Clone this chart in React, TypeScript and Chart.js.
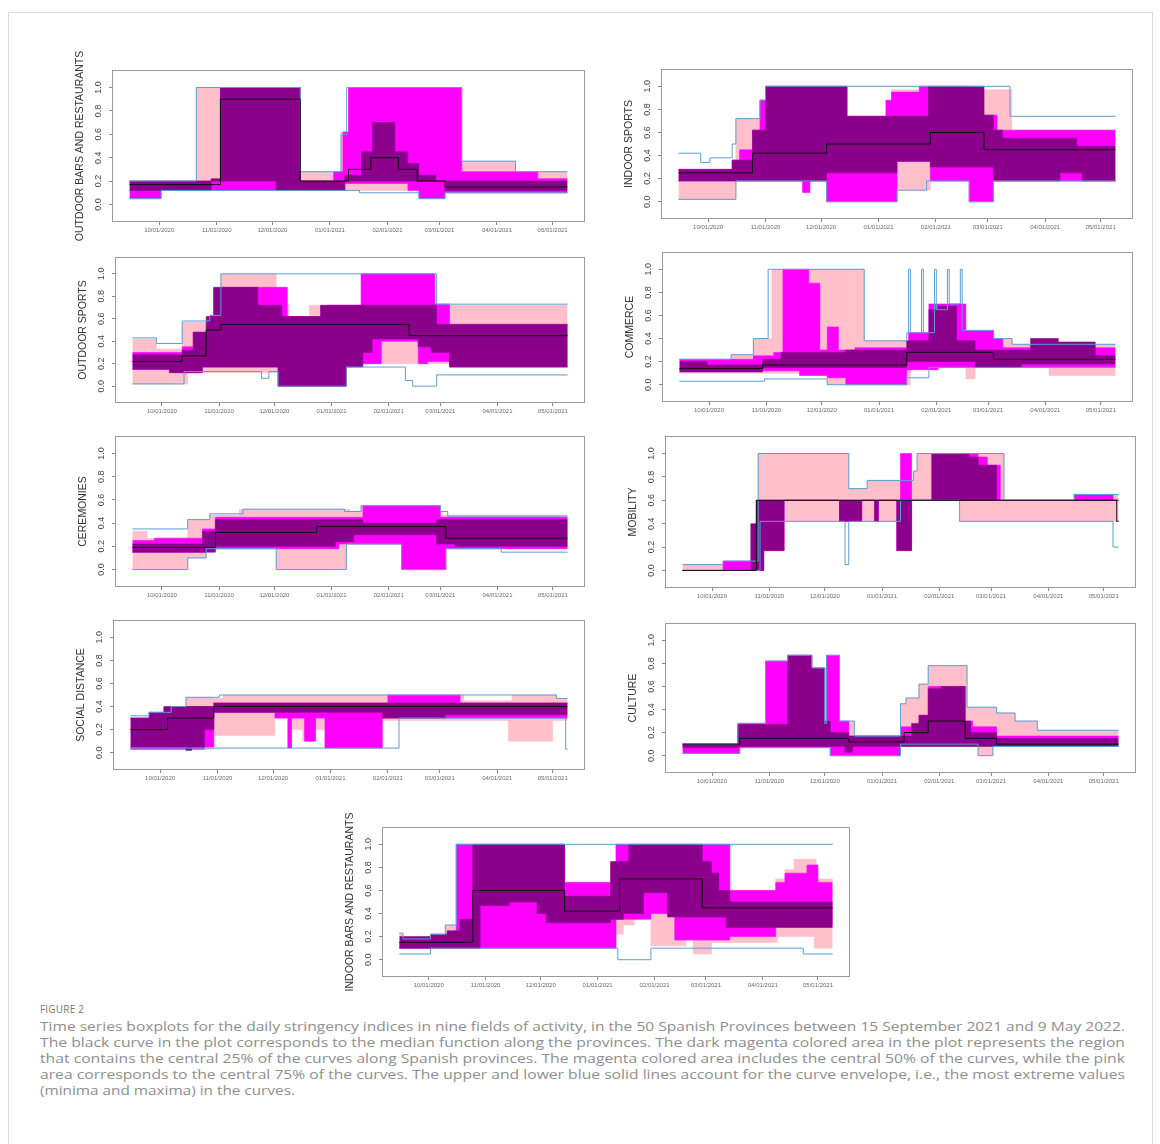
import React, { useEffect, useLayoutEffect, useRef } from "react";
import { Chart, registerables } from "chart.js";

Chart.register(...registerables);

type Step = [number, number][];

// ---------- shared axis data ----------
const END_DAY = 236; // days after 15 Sep 2020
const X_MIN = -9.44;
const X_MAX = 245.44;
const Y_MIN = -0.15;
const Y_MAX = 1.15;
const TICK_DAYS = [16, 47, 77, 108, 139, 167, 198, 228];
const TICK_LABELS = ["10/01/2020", "11/01/2020", "12/01/2020", "01/01/2021", "02/01/2021", "03/01/2021", "04/01/2021", "05/01/2021"];
const Y_TICKS = [0, 0.2, 0.4, 0.6, 0.8, 1.0];

// ---------- Panel 1: OUTDOOR BARS AND RESTAURANTS ----------
const OBR_MEDIAN: Step = [[0, 0.17], [49, 0.9], [92, 0.2], [118, 0.3], [130, 0.4], [145, 0.3], [155, 0.2], [170, 0.15]];
const OBR_MAX: Step = [[0, 0.2], [36, 1.0], [92, 0.28], [114, 0.6], [117, 1.0], [179, 0.37], [208, 0.28]];
const OBR_MIN: Step = [[0, 0.05], [17, 0.12], [124, 0.1], [156, 0.05], [170, 0.1]];
const OBR_PINK_HI: Step = [[0, 0.2], [36, 1.0], [92, 0.28], [114, 0.62], [118, 1.0], [179, 0.37], [208, 0.28]];
const OBR_PINK_LO: Step = [[0, 0.05], [17, 0.12], [156, 0.06], [170, 0.1]];
const OBR_MAG_HI: Step = [[0, 0.2], [49, 1.0], [92, 0.2], [110, 0.28], [115, 0.62], [118, 1.0], [179, 0.28], [220, 0.22]];
const OBR_MAG_LO: Step = [[0, 0.05], [17, 0.12], [116, 0.18], [150, 0.12], [156, 0.05], [170, 0.1]];
const OBR_DARK_HI: Step = [[0, 0.2], [44, 0.22], [49, 1.0], [92, 0.2], [116, 0.25], [125, 0.45], [131, 0.7], [143, 0.45], [150, 0.35], [156, 0.25], [165, 0.2]];
const OBR_DARK_LO: Step = [[0, 0.12], [44, 0.2], [79, 0.12], [116, 0.2], [170, 0.12]];

// ---------- Panel 2: INDOOR SPORTS ----------
const IS_MEDIAN: Step = [[0, 0.25], [40, 0.42], [80, 0.5], [136, 0.6], [165, 0.45]];
const IS_MAX: Step = [[0, 0.42], [12, 0.34], [17, 0.38], [29, 0.5], [31, 0.72], [44, 0.88], [47, 1.0], [179, 0.74]];
const IS_MIN: Step = [[0, 0.02], [31, 0.18], [80, 0.0], [118, 0.1], [134, 0.18], [157, 0.0], [170, 0.18]];
const IS_PINK_HI: Step = [[0, 0.28], [31, 0.72], [44, 0.88], [47, 1.0], [91, 0.74], [115, 0.97], [131, 1.0], [160, 0.97], [180, 0.62]];
const IS_PINK_LO: Step = [[0, 0.02], [31, 0.18], [80, 0.0], [118, 0.1], [136, 0.18], [157, 0.0], [170, 0.18]];
const IS_MAG_HI: Step = [[0, 0.28], [29, 0.36], [33, 0.45], [40, 0.62], [44, 0.88], [47, 1.0], [91, 0.74], [112, 0.88], [115, 0.95], [130, 1.0], [155, 0.95], [162, 0.75], [172, 0.62]];
const IS_MAG_LO: Step = [[0, 0.18], [67, 0.08], [71, 0.18], [80, 0.0], [118, 0.35], [136, 0.18], [157, 0.0], [170, 0.18]];
const IS_DARK_HI: Step = [[0, 0.28], [29, 0.36], [40, 0.62], [47, 1.0], [91, 0.74], [135, 1.0], [165, 0.75], [170, 0.62], [175, 0.55], [215, 0.48]];
const IS_DARK_LO: Step = [[0, 0.18], [80, 0.25], [118, 0.35], [136, 0.3], [170, 0.18], [206, 0.25], [218, 0.18]];

// ---------- Panel 3: OUTDOOR SPORTS ----------
const OS_MEDIAN: Step = [[0, 0.22], [27, 0.27], [40, 0.5], [48, 0.55], [150, 0.45]];
const OS_MAX: Step = [[0, 0.43], [13, 0.38], [27, 0.58], [42, 0.63], [48, 1.0], [165, 0.73]];
const OS_MIN: Step = [[0, 0.02], [28, 0.13], [70, 0.07], [74, 0.13], [79, 0.0], [116, 0.17], [148, 0.05], [152, 0.0], [165, 0.1]];
const OS_PINK_HI: Step = [[0, 0.42], [13, 0.33], [27, 0.57], [42, 0.63], [48, 1.0], [78, 0.73], [85, 0.62], [96, 0.72], [125, 1.0], [164, 0.73], [172, 0.72]];
const OS_PINK_LO: Step = [[0, 0.02], [30, 0.12], [79, 0.0], [116, 0.2]];
const OS_MAG_HI: Step = [[0, 0.3], [27, 0.35], [33, 0.48], [42, 0.63], [48, 0.88], [84, 0.62], [106, 0.72], [124, 1.0], [164, 0.73], [172, 0.55]];
const OS_MAG_LO: Step = [[0, 0.15], [23, 0.12], [36, 0.17], [79, 0.0], [116, 0.2], [135, 0.4], [155, 0.2], [160, 0.22], [172, 0.17]];
const OS_DARK_HI: Step = [[0, 0.28], [27, 0.32], [33, 0.48], [40, 0.62], [44, 0.88], [68, 0.72], [81, 0.62], [102, 0.72], [165, 0.55]];
const OS_DARK_LO: Step = [[0, 0.15], [20, 0.12], [38, 0.17], [79, 0.0], [116, 0.17], [125, 0.3], [130, 0.42], [155, 0.35], [162, 0.3], [172, 0.17]];

// ---------- Panel 4: COMMERCE ----------
const CO_MEDIAN: Step = [[0, 0.14], [45, 0.17], [123, 0.28], [170, 0.22]];
const CO_MAX: Step = [[0, 0.22], [28, 0.26], [40, 0.4], [48, 1.0], [100, 0.38], [123, 0.45], [124, 1.0], [125, 0.45], [131, 1.0], [132, 0.45], [138, 1.0], [139, 0.65], [145, 1.0], [146, 0.7], [152, 1.0], [153, 0.47], [170, 0.4], [180, 0.35]];
const CO_MIN: Step = [[0, 0.03], [46, 0.05], [80, 0.0], [123, 0.06], [135, 0.15]];
const CO_PINK_HI: Step = [[0, 0.22], [28, 0.26], [40, 0.4], [50, 1.0], [100, 0.38], [124, 0.45], [155, 0.47], [170, 0.4], [180, 0.35]];
const CO_PINK_LO: Step = [[0, 0.1], [80, 0.0], [125, 0.15], [155, 0.05], [160, 0.15], [200, 0.08]];
const CO_MAG_HI: Step = [[0, 0.22], [40, 0.25], [51, 0.28], [56, 1.0], [70, 0.88], [76, 0.3], [80, 0.5], [86, 0.3], [95, 0.32], [124, 0.45], [135, 0.7], [155, 0.47], [170, 0.4], [175, 0.32]];
const CO_MAG_LO: Step = [[0, 0.12], [65, 0.08], [80, 0.06], [90, 0.0], [123, 0.13], [140, 0.15]];
const CO_DARK_HI: Step = [[0, 0.2], [15, 0.17], [45, 0.22], [55, 0.28], [90, 0.3], [123, 0.38], [135, 0.65], [140, 0.68], [150, 0.38], [160, 0.3], [190, 0.4], [205, 0.37], [225, 0.25]];
const CO_DARK_LO: Step = [[0, 0.11], [45, 0.15], [123, 0.2], [160, 0.15], [185, 0.18]];

// ---------- Panel 5: CEREMONIES ----------
const CE_MEDIAN: Step = [[0, 0.19], [45, 0.32], [100, 0.37], [170, 0.27]];
const CE_MAX: Step = [[0, 0.35], [30, 0.43], [42, 0.48], [60, 0.52], [115, 0.5], [124, 0.55], [167, 0.5], [171, 0.46]];
const CE_MIN: Step = [[0, 0.0], [30, 0.1], [40, 0.18], [78, 0.0], [116, 0.22], [146, 0.0], [170, 0.18], [200, 0.15]];
const CE_PINK_HI: Step = [[0, 0.33], [8, 0.27], [30, 0.43], [42, 0.47], [58, 0.52], [118, 0.5], [124, 0.55], [167, 0.47]];
const CE_PINK_LO: Step = [[0, 0.0], [30, 0.1], [40, 0.18], [78, 0.0], [116, 0.22], [146, 0.0], [170, 0.18]];
const CE_MAG_HI: Step = [[0, 0.25], [12, 0.27], [38, 0.35], [45, 0.45], [125, 0.55], [167, 0.45]];
const CE_MAG_LO: Step = [[0, 0.15], [40, 0.18], [112, 0.22], [146, 0.0], [170, 0.18]];
const CE_DARK_HI: Step = [[0, 0.22], [38, 0.33], [45, 0.43], [125, 0.4], [165, 0.43]];
const CE_DARK_LO: Step = [[0, 0.15], [45, 0.2], [110, 0.24], [120, 0.3], [165, 0.22], [175, 0.2]];

// ---------- Panel 6: MOBILITY ----------
const MO_MEDIAN: Step = [[0, 0.0], [40, 0.6], [235, 0.42]];
const MO_MAX: Step = [[0, 0.05], [22, 0.08], [41, 1.0], [90, 0.7], [100, 0.77], [125, 0.85], [127, 1.0], [174, 0.6], [212, 0.65]];
const MO_MIN: Step = [[0, 0.0], [42, 0.42], [88, 0.05], [90, 0.42], [118, 0.6], [150, 0.42], [233, 0.2]];
const MO_PINK_HI: Step = [[0, 0.05], [22, 0.08], [41, 1.0], [90, 0.7], [100, 0.77], [125, 0.85], [127, 1.0], [174, 0.6], [212, 0.65]];
const MO_PINK_LO: Step = [[0, 0.0], [42, 0.42], [118, 0.6], [150, 0.42]];
const MO_MAG_HI: Step = [[0, 0.0], [22, 0.08], [40, 0.6], [118, 1.0], [124, 0.6], [135, 1.0], [160, 0.97], [165, 0.9], [172, 0.6], [212, 0.65], [233, 0.6]];
const MO_MAG_LO: Step = [[0, 0.0], [44, 0.17], [55, 0.6], [85, 0.42], [97, 0.6], [104, 0.42], [106, 0.6], [116, 0.17], [124, 0.6]];
const MO_DARK_HI: Step = [[0, 0.0], [37, 0.4], [40, 0.6], [135, 1.0], [155, 0.97], [160, 0.9], [170, 0.6]];
const MO_DARK_LO: Step = [[0, 0.0], [44, 0.17], [55, 0.6], [85, 0.42], [97, 0.6], [104, 0.42], [106, 0.6], [116, 0.17], [124, 0.6]];

// ---------- Panel 7: SOCIAL DISTANCE ----------
const SD_MEDIAN: Step = [[0, 0.2], [20, 0.3], [45, 0.4]];
const SD_MAX: Step = [[0, 0.32], [10, 0.35], [22, 0.4], [30, 0.48], [48, 0.5], [230, 0.47]];
const SD_MIN: Step = [[0, 0.04], [145, 0.3], [235, 0.03]];
const SD_PINK_HI: Step = [[0, 0.3], [30, 0.48], [45, 0.47], [50, 0.5], [180, 0.45], [206, 0.5], [230, 0.47]];
const SD_PINK_LO: Step = [[0, 0.03], [45, 0.15], [78, 0.3], [85, 0.04], [87, 0.2], [93, 0.1], [98, 0.2], [110, 0.04], [135, 0.28], [204, 0.1], [228, 0.28]];
const SD_MAG_HI: Step = [[0, 0.3], [22, 0.4], [45, 0.43], [139, 0.5], [178, 0.43]];
const SD_MAG_LO: Step = [[0, 0.03], [40, 0.05], [45, 0.35], [78, 0.3], [85, 0.04], [87, 0.3], [94, 0.1], [100, 0.3], [105, 0.04], [136, 0.3]];
const SD_DARK_HI: Step = [[0, 0.3], [10, 0.35], [18, 0.4], [45, 0.43]];
const SD_DARK_LO: Step = [[0, 0.05], [30, 0.02], [33, 0.05], [40, 0.2], [45, 0.35], [136, 0.3], [170, 0.33]];

// ---------- Panel 8: CULTURE ----------
const CU_MEDIAN: Step = [[0, 0.1], [31, 0.15], [90, 0.12], [120, 0.2], [133, 0.3], [153, 0.15], [170, 0.1]];
const CU_MAX: Step = [[0, 0.1], [30, 0.28], [45, 0.82], [57, 0.87], [70, 0.76], [77, 0.28], [78, 0.87], [85, 0.3], [93, 0.17], [118, 0.45], [121, 0.5], [128, 0.62], [133, 0.78], [154, 0.42], [170, 0.37], [180, 0.3], [192, 0.22]];
const CU_MIN: Step = [[0, 0.02], [31, 0.07], [80, 0.0], [118, 0.1], [160, 0.0], [168, 0.08]];
const CU_PINK_HI: Step = [[0, 0.1], [30, 0.28], [45, 0.82], [57, 0.87], [70, 0.76], [77, 0.28], [78, 0.87], [85, 0.3], [93, 0.17], [118, 0.45], [121, 0.5], [128, 0.62], [133, 0.78], [154, 0.42], [170, 0.37], [180, 0.3], [192, 0.22]];
const CU_PINK_LO: Step = [[0, 0.02], [31, 0.07], [80, 0.0], [118, 0.1], [160, 0.0], [168, 0.08]];
const CU_MAG_HI: Step = [[0, 0.1], [30, 0.28], [45, 0.82], [57, 0.87], [70, 0.76], [77, 0.28], [78, 0.87], [85, 0.3], [90, 0.17], [118, 0.25], [128, 0.35], [133, 0.6], [153, 0.3], [157, 0.25], [170, 0.17]];
const CU_MAG_LO: Step = [[0, 0.02], [31, 0.07], [80, 0.0], [118, 0.1]];
const CU_DARK_HI: Step = [[0, 0.1], [30, 0.27], [57, 0.87], [70, 0.76], [77, 0.3], [80, 0.2], [90, 0.17], [124, 0.28], [128, 0.35], [133, 0.58], [140, 0.6], [153, 0.3], [156, 0.2], [170, 0.15]];
const CU_DARK_LO: Step = [[0, 0.07], [31, 0.08], [88, 0.03], [92, 0.08]];

// ---------- Panel 9: INDOOR BARS AND RESTAURANTS ----------
const IB_MEDIAN: Step = [[0, 0.15], [40, 0.6], [90, 0.42], [120, 0.7], [165, 0.45]];
const IB_MAX: Step = [[0, 0.23], [2, 0.18], [17, 0.22], [25, 0.3], [31, 1.0]];
const IB_MIN: Step = [[0, 0.05], [17, 0.1], [119, 0.0], [137, 0.1], [220, 0.05]];
const IB_PINK_HI: Step = [[0, 0.23], [2, 0.18], [17, 0.22], [25, 0.3], [31, 1.0], [90, 0.67], [118, 1.0], [180, 0.6], [205, 0.7], [210, 0.78], [215, 0.87], [227, 0.7]];
const IB_PINK_LO: Step = [[0, 0.1], [118, 0.22], [122, 0.3], [128, 0.37], [137, 0.12], [156, 0.18], [160, 0.05], [170, 0.15], [206, 0.2], [226, 0.1]];
const IB_MAG_HI: Step = [[0, 0.15], [17, 0.22], [31, 1.0], [90, 0.67], [118, 1.0], [180, 0.6], [205, 0.67], [210, 0.75], [222, 0.82], [228, 0.67]];
const IB_MAG_LO: Step = [[0, 0.1], [118, 0.35], [137, 0.4], [150, 0.17], [180, 0.2], [205, 0.3]];
const IB_DARK_HI: Step = [[0, 0.2], [17, 0.22], [26, 0.25], [33, 0.35], [40, 1.0], [90, 0.55], [115, 0.85], [125, 1.0], [165, 0.85], [170, 0.75], [174, 0.6], [180, 0.5]];
const IB_DARK_LO: Step = [[0, 0.1], [44, 0.47], [60, 0.5], [75, 0.4], [80, 0.32], [115, 0.35], [122, 0.4], [133, 0.58], [146, 0.37], [178, 0.28]];

// ---------- caption ----------
const CAPTION_HEAD = "FIGURE 2";
const CAPTION_LINES = [
  "Time series boxplots for the daily stringency indices in nine fields of activity, in the 50 Spanish Provinces between 15 September 2021 and 9 May 2022.",
  "The black curve in the plot corresponds to the median function along the provinces. The dark magenta colored area in the plot represents the region",
  "that contains the central 25% of the curves along Spanish provinces. The magenta colored area includes the central 50% of the curves, while the pink",
  "area corresponds to the central 75% of the curves. The upper and lower blue solid lines account for the curve envelope, i.e., the most extreme values",
  "(minima and maxima) in the curves.",
];
const CAPTION_WIDTHS = [1085, 1085, 1085, 1085, 255];

// ---------- styles ----------
const PINK = "#FFC0CB";
const MAGENTA = "#FF00FF";
const DARK = "#8B008B";
const BLUE = "#5a9fd6";
const PAD_L = 45;
const PAD_R = 8;
const PAD_T = 40;
const PAD_B = 22;

type Series = { median: Step; max: Step; min: Step; pinkHi: Step; pinkLo: Step; magHi: Step; magLo: Step; darkHi: Step; darkLo: Step };
type PanelDef = { title: string; s: Series; l: number; t: number; r: number; b: number };

const PANELS: PanelDef[] = [
  { title: "OUTDOOR BARS AND RESTAURANTS", l: 112, t: 70, r: 585, b: 222, s: { median: OBR_MEDIAN, max: OBR_MAX, min: OBR_MIN, pinkHi: OBR_PINK_HI, pinkLo: OBR_PINK_LO, magHi: OBR_MAG_HI, magLo: OBR_MAG_LO, darkHi: OBR_DARK_HI, darkLo: OBR_DARK_LO } },
  { title: "INDOOR SPORTS", l: 661, t: 69, r: 1133, b: 219, s: { median: IS_MEDIAN, max: IS_MAX, min: IS_MIN, pinkHi: IS_PINK_HI, pinkLo: IS_PINK_LO, magHi: IS_MAG_HI, magLo: IS_MAG_LO, darkHi: IS_DARK_HI, darkLo: IS_DARK_LO } },
  { title: "OUTDOOR SPORTS", l: 115, t: 257, r: 585, b: 403, s: { median: OS_MEDIAN, max: OS_MAX, min: OS_MIN, pinkHi: OS_PINK_HI, pinkLo: OS_PINK_LO, magHi: OS_MAG_HI, magLo: OS_MAG_LO, darkHi: OS_DARK_HI, darkLo: OS_DARK_LO } },
  { title: "COMMERCE", l: 662, t: 252, r: 1133, b: 402, s: { median: CO_MEDIAN, max: CO_MAX, min: CO_MIN, pinkHi: CO_PINK_HI, pinkLo: CO_PINK_LO, magHi: CO_MAG_HI, magLo: CO_MAG_LO, darkHi: CO_DARK_HI, darkLo: CO_DARK_LO } },
  { title: "CEREMONIES", l: 115, t: 436, r: 585, b: 587, s: { median: CE_MEDIAN, max: CE_MAX, min: CE_MIN, pinkHi: CE_PINK_HI, pinkLo: CE_PINK_LO, magHi: CE_MAG_HI, magLo: CE_MAG_LO, darkHi: CE_DARK_HI, darkLo: CE_DARK_LO } },
  { title: "MOBILITY", l: 665, t: 436, r: 1136, b: 588, s: { median: MO_MEDIAN, max: MO_MAX, min: MO_MIN, pinkHi: MO_PINK_HI, pinkLo: MO_PINK_LO, magHi: MO_MAG_HI, magLo: MO_MAG_LO, darkHi: MO_DARK_HI, darkLo: MO_DARK_LO } },
  { title: "SOCIAL DISTANCE", l: 113, t: 620, r: 585, b: 770, s: { median: SD_MEDIAN, max: SD_MAX, min: SD_MIN, pinkHi: SD_PINK_HI, pinkLo: SD_PINK_LO, magHi: SD_MAG_HI, magLo: SD_MAG_LO, darkHi: SD_DARK_HI, darkLo: SD_DARK_LO } },
  { title: "CULTURE", l: 665, t: 623, r: 1136, b: 773, s: { median: CU_MEDIAN, max: CU_MAX, min: CU_MIN, pinkHi: CU_PINK_HI, pinkLo: CU_PINK_LO, magHi: CU_MAG_HI, magLo: CU_MAG_LO, darkHi: CU_DARK_HI, darkLo: CU_DARK_LO } },
  { title: "INDOOR BARS AND RESTAURANTS", l: 382, t: 827, r: 850, b: 977, s: { median: IB_MEDIAN, max: IB_MAX, min: IB_MIN, pinkHi: IB_PINK_HI, pinkLo: IB_PINK_LO, magHi: IB_MAG_HI, magLo: IB_MAG_LO, darkHi: IB_DARK_HI, darkLo: IB_DARK_LO } },
];

function toPts(s: Step) {
  const pts = s.map(([x, y]) => ({ x, y }));
  pts.push({ x: END_DAY, y: s[s.length - 1][1] });
  return pts;
}

function ds(data: Step, color: string, width: number, fill: any = false) {
  return {
    data: toPts(data),
    borderColor: color,
    backgroundColor: color,
    borderWidth: width,
    pointRadius: 0,
    pointHoverRadius: 0,
    stepped: true,
    tension: 0,
    fill,
  };
}

const framePlugin = {
  id: "frame",
  afterDraw(chart: any) {
    const { ctx, chartArea } = chart;
    const { left, top, right, bottom } = chartArea;
    ctx.save();
    ctx.strokeStyle = "#9a9a9a";
    ctx.lineWidth = 1;
    ctx.strokeRect(Math.round(left) + 0.5, Math.round(top) + 0.5, Math.round(right - left) - 1, Math.round(bottom - top) - 1);
    ctx.restore();
  },
};

function Panel({ p }: { p: PanelDef }) {
  const ref = useRef<HTMLCanvasElement>(null);
  const w = p.r - p.l + PAD_L + PAD_R;
  const h = p.b - p.t + PAD_T + PAD_B;
  useEffect(() => {
    const s = p.s;
    const chart = new Chart(ref.current as HTMLCanvasElement, {
      type: "line",
      data: {
        datasets: [
          ds(s.median, "#111111", 1),
          ds(s.max, BLUE, 1),
          ds(s.min, BLUE, 1),
          ds(s.darkHi, DARK, 0.6, "+1"),
          ds(s.darkLo, DARK, 0.6),
          ds(s.magHi, MAGENTA, 0.6, "+1"),
          ds(s.magLo, MAGENTA, 0.6),
          ds(s.pinkHi, PINK, 0.6, "+1"),
          ds(s.pinkLo, PINK, 0.6),
        ] as any,
      },
      options: {
        animation: false,
        responsive: false,
        events: [],
        layout: { padding: { left: 0, right: PAD_R, top: PAD_T, bottom: 0 } },
        plugins: { legend: { display: false }, tooltip: { enabled: false } },
        scales: {
          x: {
            type: "linear",
            min: X_MIN,
            max: X_MAX,
            afterBuildTicks: (sc: any) => {
              sc.ticks = TICK_DAYS.map((v) => ({ value: v }));
            },
            afterFit: (sc: any) => {
              sc.height = PAD_B;
            },
            ticks: {
              autoSkip: false,
              minRotation: 0,
              maxRotation: 0,
              padding: 2,
              color: "#6a6a6a",
              font: { size: 6, family: "Liberation Sans" },
              callback: (_v: any, i: number) => TICK_LABELS[i],
            },
            grid: { drawOnChartArea: false, tickLength: 3, color: "#8a8a8a" },
            border: { display: false },
          },
          y: {
            type: "linear",
            min: Y_MIN,
            max: Y_MAX,
            afterBuildTicks: (sc: any) => {
              sc.ticks = Y_TICKS.map((v) => ({ value: v }));
            },
            afterFit: (sc: any) => {
              sc.width = PAD_L;
            },
            ticks: {
              minRotation: 90,
              maxRotation: 90,
              crossAlign: "center",
              padding: 4,
              color: "#444",
              font: { size: 9, family: "Liberation Sans" },
              callback: (v: any) => Number(v).toFixed(1),
            },
            grid: { drawOnChartArea: false, tickLength: 3, color: "#8a8a8a" },
            border: { display: false },
            title: {
              display: true,
              text: p.title,
              color: "#333",
              font: { size: 10.5, family: "Liberation Sans" },
              padding: { top: 7, bottom: 0 },
            },
          },
        },
      } as any,
      plugins: [framePlugin],
    });
    return () => chart.destroy();
  }, []);
  return (
    <canvas
      ref={ref}
      width={w}
      height={h}
      style={{ position: "absolute", left: p.l - PAD_L, top: p.t - PAD_T, width: w, height: h }}
    />
  );
}

function FitLine({ text, top, width }: { text: string; top: number; width: number }) {
  const ref = useRef<HTMLSpanElement>(null);
  useLayoutEffect(() => {
    const el = ref.current;
    if (!el) return;
    const w = el.getBoundingClientRect().width;
    if (w > 0) el.style.transform = `scaleX(${width / w})`;
  }, []);
  return (
    <div style={{ position: "absolute", left: 40, top, height: 16, lineHeight: "16px", whiteSpace: "nowrap" }}>
      <span
        ref={ref}
        style={{ display: "inline-block", transformOrigin: "0 0", fontFamily: '"Open Sans", sans-serif', fontSize: 12, color: "#8e8e8e" }}
      >
        {text}
      </span>
    </div>
  );
}

export default function App() {
  return (
    <div style={{ position: "absolute", left: 0, top: 0, width: 1160, height: 1144, background: "#fff", overflow: "hidden" }}>
      <div style={{ position: "absolute", left: 8, top: 12, width: 1143, height: 1160, border: "1px solid #dcdcdc" }} />
      {PANELS.map((p) => (
        <Panel key={p.title} p={p} />
      ))}
      <div style={{ position: "absolute", left: 40, top: 1002, fontFamily: '"Open Sans", sans-serif', fontSize: 10, color: "#777", letterSpacing: 0.2 }}>
        {CAPTION_HEAD}
      </div>
      {CAPTION_LINES.map((t, i) => (
        <FitLine key={i} text={t} top={1018 + i * 16} width={CAPTION_WIDTHS[i]} />
      ))}
    </div>
  );
}
